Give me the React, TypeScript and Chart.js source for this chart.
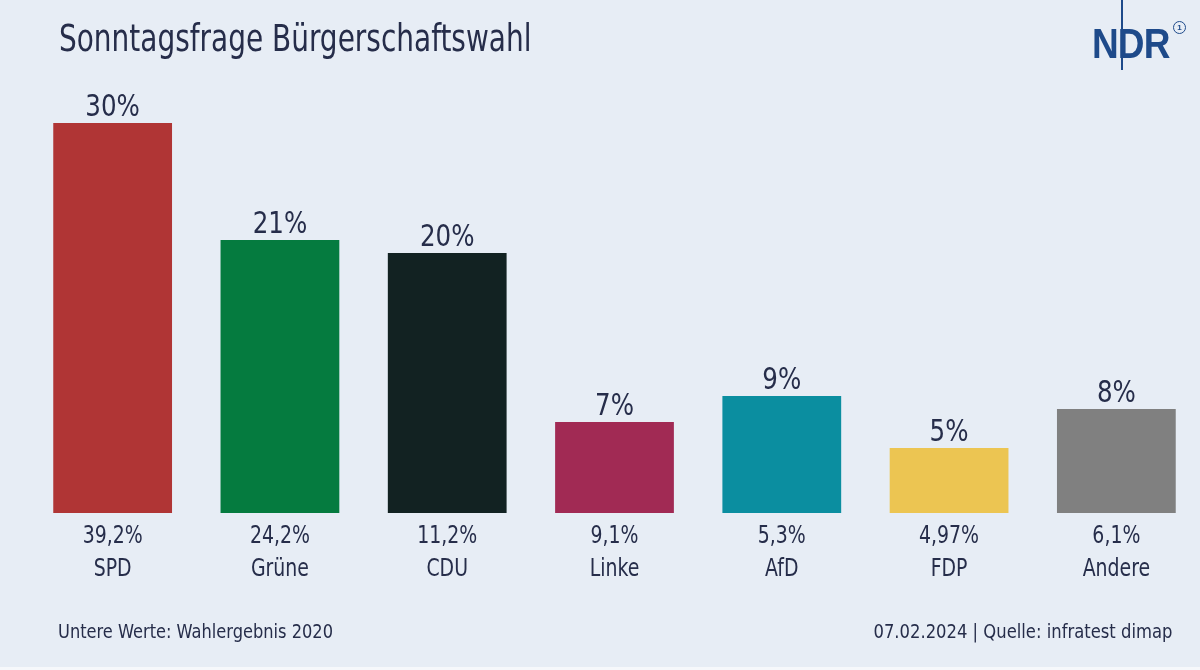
import React, { useEffect, useRef } from "react";
import { Chart, registerables } from "chart.js";

Chart.register(...registerables);

const parties = ["SPD", "Grüne", "CDU", "Linke", "AfD", "FDP", "Andere"];
const poll2024 = [30, 21, 20, 7, 9, 5, 8];
const result2020 = [39.2, 24.2, 11.2, 9.1, 5.3, 4.97, 6.1];
const barColors = ["#b03535", "#057b3f", "#122222", "#a12a54", "#0b8ea0", "#ecc552", "#808080"];

const FONT = '"Liberation Sans Narrow", "DejaVu Sans Condensed", "Roboto Condensed", sans-serif';
const TEXT = "#262d4a";
const BG = "#e7edf5";
const LOGO = "#1e4a8a";

const fmt = (v: number) => String(v).replace(".", ",") + "%";

function drawSqueezed(ctx: any, text: string, x: number, y: number, sx: number) {
  ctx.save();
  ctx.translate(x, y);
  ctx.scale(sx, 1);
  ctx.fillText(text, 0, 0);
  ctx.restore();
}

const labelsPlugin = {
  id: "labelsPlugin",
  afterDatasetsDraw(chart: any) {
    const ctx = chart.ctx;
    const meta = chart.getDatasetMeta(0);
    const bottom = chart.chartArea.bottom;
    ctx.save();
    ctx.fillStyle = TEXT;
    ctx.textAlign = "center";
    ctx.textBaseline = "alphabetic";
    meta.data.forEach((bar: any, i: number) => {
      ctx.font = `31px ${FONT}`;
      drawSqueezed(ctx, fmt(poll2024[i]), bar.x, bar.y - 7, 0.88);
      ctx.font = `25px ${FONT}`;
      drawSqueezed(ctx, fmt(result2020[i]), bar.x, bottom + 30, 0.84);
      drawSqueezed(ctx, parties[i], bar.x, bottom + 63, 0.84);
    });
    ctx.restore();
  },
};

export default function App() {
  const ref = useRef<HTMLCanvasElement>(null);
  useEffect(() => {
    if (!ref.current) return;
    const chart = new Chart(ref.current, {
      type: "bar",
      data: {
        labels: parties,
        datasets: [
          {
            data: poll2024,
            backgroundColor: barColors,
            borderWidth: 0,
            barPercentage: 0.71,
            categoryPercentage: 1,
          },
        ],
      },
      options: {
        animation: false,
        responsive: false,
        maintainAspectRatio: false,
        layout: { padding: { left: 29, right: 0, top: 97, bottom: 0 } },
        plugins: { legend: { display: false }, title: { display: false }, tooltip: { enabled: false } },
        scales: {
          y: { display: false, min: 0, max: 32 },
          x: {
            grid: { display: false, drawTicks: false },
            border: { display: false },
            ticks: { display: false },
            afterFit: (scale: any) => {
              scale.height = 157;
            },
          },
        },
      },
      plugins: [labelsPlugin],
    });
    return () => chart.destroy();
  }, []);

  return (
    <div style={{ position: "fixed", left: 0, top: 0, width: 1200, height: 670, background: BG, overflow: "hidden", fontFamily: FONT, color: TEXT }}>
      <canvas ref={ref} width={1200} height={670} style={{ position: "absolute", left: 0, top: 0 }} />
      <div style={{ position: "absolute", left: 59, top: 14, fontSize: 37, lineHeight: "50px", whiteSpace: "nowrap", transform: "scaleX(0.84)", transformOrigin: "0 0" }}>
        Sonntagsfrage Bürgerschaftswahl
      </div>
      <div style={{ position: "absolute", left: 58, top: 619, fontSize: 19, lineHeight: "24px", whiteSpace: "nowrap", transform: "scaleX(0.95)", transformOrigin: "0 0" }}>
        Untere Werte: Wahlergebnis 2020
      </div>
      <div style={{ position: "absolute", right: 28, top: 619, fontSize: 19, lineHeight: "24px", whiteSpace: "nowrap", transform: "scaleX(0.96)", transformOrigin: "100% 0" }}>
        07.02.2024 | Quelle: infratest dimap
      </div>
      <div style={{ position: "absolute", left: 1092, top: 19, fontFamily: '"Liberation Sans", Arial, sans-serif', fontWeight: 700, fontSize: 43, lineHeight: "48px", color: LOGO, letterSpacing: -1, transform: "scaleX(0.86)", transformOrigin: "0 0", whiteSpace: "nowrap" }}>
        NDR
      </div>
      <div style={{ position: "absolute", left: 1121, top: 0, width: 2, height: 70, background: LOGO }} />
      <div style={{ position: "absolute", left: 1173, top: 21, width: 11, height: 11, borderRadius: "50%", border: "1.5px solid " + LOGO, fontSize: 8, lineHeight: "11px", textAlign: "center", fontWeight: 700, color: LOGO, fontFamily: '"Liberation Sans", Arial, sans-serif' }}>
        1
      </div>
      <div style={{ position: "absolute", left: 0, top: 667, width: 1200, height: 3, background: "#f6f8fb" }} />
    </div>
  );
}
